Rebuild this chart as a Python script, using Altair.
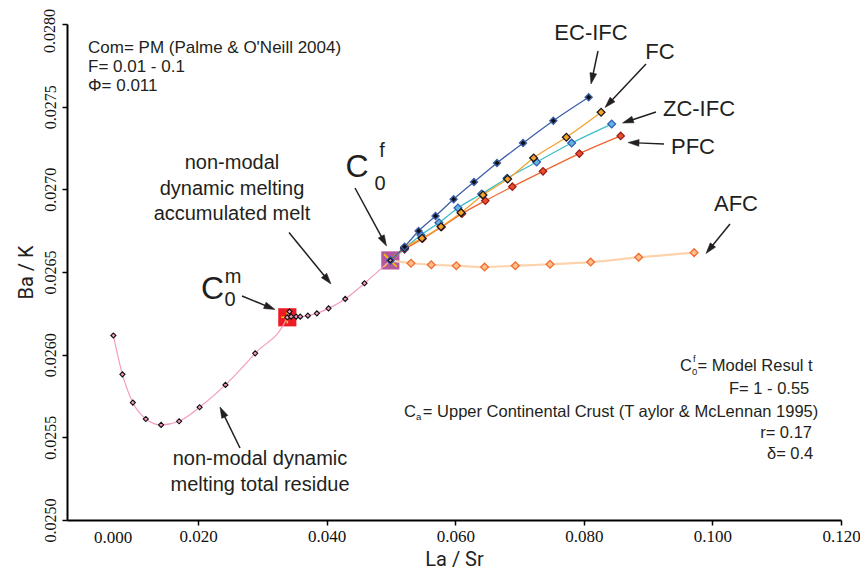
import math
import altair as alt
import pandas as pd

# ---------------- data ----------------
# non-modal dynamic melting: total residue (to C0m) then accumulated melt (to C0f)
res_x = [0.00682, 0.00822, 0.00984, 0.01186, 0.01424, 0.01704, 0.02023, 0.02425, 0.02887, 0.03387]
res_y = [0.026116, 0.025881, 0.025710, 0.025611, 0.025575, 0.025597, 0.025682, 0.025817, 0.026008, 0.026226]
melt_x = [0.03421, 0.03447, 0.03525, 0.03588, 0.03707, 0.03847, 0.04028, 0.04288, 0.04588, 0.04990]
melt_y = [0.026260, 0.026230, 0.026230, 0.026230, 0.026236, 0.026250, 0.026280, 0.026337, 0.026432, 0.026570]

c0m = (0.03387, 0.026226)
c0f = (0.04990, 0.026570)

series = ["EC-IFC", "FC", "ZC-IFC", "PFC", "AFC"]
ec_x = [0.05211, 0.05429, 0.05693, 0.05974, 0.06291, 0.06649, 0.07054, 0.07525, 0.08075]
ec_y = [0.026653, 0.026748, 0.026839, 0.026940, 0.027044, 0.027159, 0.027280, 0.027415, 0.027557]
fc_x = [0.05211, 0.05482, 0.05777, 0.06089, 0.06431, 0.06814, 0.07219, 0.07728, 0.08268]
fc_y = [0.026647, 0.026704, 0.026774, 0.026859, 0.026966, 0.027062, 0.027190, 0.027315, 0.027466]
zc_x = [0.05211, 0.05466, 0.05746, 0.06042, 0.06409, 0.06805, 0.07265, 0.07810, 0.08433]
zc_y = [0.026643, 0.026724, 0.026798, 0.026887, 0.026972, 0.027067, 0.027165, 0.027280, 0.027395]
pfc_x = [0.05211, 0.05491, 0.05787, 0.06104, 0.06467, 0.06887, 0.07365, 0.07930, 0.08573]
pfc_y = [0.026637, 0.026701, 0.026772, 0.026853, 0.026931, 0.027016, 0.027109, 0.027216, 0.027323]
afc_x = [0.05311, 0.05626, 0.06016, 0.06456, 0.06934, 0.07474, 0.08106, 0.08853, 0.09715]
afc_y = [0.026553, 0.026544, 0.026538, 0.026530, 0.026538, 0.026547, 0.026560, 0.026589, 0.026617]

x_ticks = [0.02, 0.04, 0.06, 0.08, 0.10, 0.12]
y_ticks = [0.0250, 0.0255, 0.0260, 0.0265, 0.0270, 0.0275, 0.0280]

# ---------------- styles ----------------
INK = "#231f20"
PINK_LINE = "#f39cc3"
PINK_FILL = "#f49ac1"
line_col = {"EC-IFC": "#3d5ea8", "FC": "#f6a12c", "ZC-IFC": "#3dbfc6", "PFC": "#f0642e", "AFC": "#fdd3ad"}
line_w = {"EC-IFC": 1.3, "FC": 1.3, "ZC-IFC": 1.3, "PFC": 1.3, "AFC": 2.2}
fill_col = {"EC-IFC": "#111111", "FC": "#f7a12a", "ZC-IFC": "#63b3e3", "PFC": "#e8522a", "AFC": "#fdc08e"}
strk_col = {"EC-IFC": "#3d5ea8", "FC": "#1a1a1a", "ZC-IFC": "#2f5fb0", "PFC": "#9e1c1c", "AFC": "#f26b2c"}
msize = {"EC-IFC": 50, "FC": 60, "ZC-IFC": 60, "PFC": 54, "AFC": 60}

W, H = 774, 496
XMIN, XMAX = -0.0004, 0.12
YMIN, YMAX = 0.0250, 0.0280
LEFT, TOP = 67, 24  # page position of plot origin (8px margin + padding)

xs = alt.Scale(domain=[XMIN, XMAX], nice=False, zero=False)
ys = alt.Scale(domain=[YMIN, YMAX], nice=False, zero=False)

x_axis = alt.Axis(values=x_ticks, format=".3f", title="La / Sr", grid=False,
                  labelFont="Liberation Serif", labelFontSize=17, labelColor="#111",
                  tickSize=5, tickColor="black", tickWidth=1.5,
                  domainColor="black", domainWidth=2, labelPadding=3,
                  labelFlush=False, labelOverlap=False,
                  titleFont="Roboto", titleFontSize=20, titleFontWeight="normal",
                  titleColor="#222", titlePadding=5)
y_axis = alt.Axis(values=y_ticks, format=".4f", title="Ba / K", grid=False,
                  labelExpr="datum.value > 0.02799 ? '' : datum.label",
                  labelFont="Liberation Serif", labelFontSize=16, labelColor="#111",
                  labelAngle=270, labelAlign="center", labelBaseline="bottom",
                  tickSize=5, tickColor="black", tickWidth=1.5,
                  domainColor="black", domainWidth=2, labelPadding=4,
                  labelFlush=False, labelOverlap=False,
                  titleFont="Roboto", titleFontSize=20, titleFontWeight="normal",
                  titleColor="#222", titlePadding=6)


def px2x(px):
    return XMIN + (px - LEFT) / W * (XMAX - XMIN)


def py2y(py):
    return YMAX - (py - TOP) / H * (YMAX - YMIN)


def X(f="x"):
    return alt.X(f"{f}:Q", scale=xs, axis=x_axis)


def Y(f="y"):
    return alt.Y(f"{f}:Q", scale=ys, axis=y_axis)


# ---------------- tables ----------------
pink_df = pd.DataFrame({"x": res_x + melt_x, "y": res_y + melt_y})
pink_df["i"] = range(len(pink_df))

arrs = {"EC-IFC": (ec_x, ec_y), "FC": (fc_x, fc_y), "ZC-IFC": (zc_x, zc_y),
        "PFC": (pfc_x, pfc_y), "AFC": (afc_x, afc_y)}
lrows, prows = [], []
for s in series:
    xx, yy = arrs[s]
    lrows.append({"s": s, "i": 0, "x": c0f[0], "y": c0f[1]})
    for k, (a, b) in enumerate(zip(xx, yy)):
        lrows.append({"s": s, "i": k + 1, "x": a, "y": b})
        prows.append({"s": s, "x": a, "y": b})
lines_df = pd.DataFrame(lrows)
pts_df = pd.DataFrame(prows)

m_df = pd.DataFrame({"x": [c0m[0]], "y": [c0m[1]]})
f_df = pd.DataFrame({"x": [c0f[0]], "y": [c0f[1]]})

sq_m = alt.Chart(m_df).mark_square(size=330, color="#ed1c24", opacity=1).encode(x=X(), y=Y())
sq_f = alt.Chart(f_df).mark_square(size=330, color="#b5579e", opacity=1).encode(x=X(), y=Y())
plus_m = alt.Chart(m_df).mark_point(
    shape="M-1,0L1,0M0,-1L0,1", size=150, stroke="#f7c600", strokeWidth=1.6, filled=False, opacity=1
).encode(x=X(), y=Y())
cross_f = alt.Chart(f_df).mark_point(
    shape="M-1,-1L1,1M-1,1L1,-1", size=160, stroke="#f7c600", strokeWidth=1.6, filled=False, opacity=1
).encode(x=X(), y=Y())
center_f = alt.Chart(f_df).mark_point(
    shape="diamond", size=60, fill="#111", stroke="#3d5ea8", strokeWidth=1.2, filled=True, opacity=1
).encode(x=X(), y=Y())
center_f2 = alt.Chart(f_df).mark_point(
    shape="diamond", size=8, fill=PINK_FILL, strokeWidth=0, filled=True, opacity=1
).encode(x=X(), y=Y())

pink_line = alt.Chart(pink_df).mark_line(color=PINK_LINE, strokeWidth=1.2, interpolate="monotone").encode(
    x=X(), y=Y(), order="i:Q")
pink_pts = alt.Chart(pink_df).mark_point(
    shape="diamond", size=26, fill=PINK_FILL, stroke="#111", strokeWidth=1.1, filled=True, opacity=1
).encode(x=X(), y=Y())

line_layers = []
for s in ["AFC", "PFC", "ZC-IFC", "FC", "EC-IFC"]:
    line_layers.append(
        alt.Chart(lines_df[lines_df.s == s]).mark_line(
            strokeWidth=line_w[s], color=line_col[s], interpolate="monotone").encode(
            x=X(), y=Y(), order="i:Q"))

pts_layers = []
for s in ["AFC", "PFC", "ZC-IFC", "FC", "EC-IFC"]:
    pts_layers.append(
        alt.Chart(pts_df[pts_df.s == s]).mark_point(
            shape="diamond", size=msize[s], fill=fill_col[s], stroke=strk_col[s],
            strokeWidth=1.3, filled=True, opacity=1).encode(x=X(), y=Y()))

# ---------------- annotations (page pixel positions -> data coords) ----------------
arrows_px = [
    (242, 296, 275, 309.5),    # C0m
    (289, 232.5, 331, 284),    # accumulated melt
    (355, 188, 386.5, 246),    # C0f
    (240, 448, 220, 407),      # residue
    (598, 51, 591, 84),        # EC-IFC
    (646, 64, 605, 107.5),     # FC
    (656, 112, 622.5, 123),    # ZC-IFC
    (664, 144, 628, 142.5),    # PFC
    (730, 224, 706, 253.5),    # AFC
]
HEAD = 11.0
arows, hrows = [], []
for (x1, y1, x2, y2) in arrows_px:
    dx, dy = x2 - x1, y2 - y1
    L = math.hypot(dx, dy)
    ux, uy = dx / L, dy / L
    ex, ey = x2 - ux * (HEAD - 2), y2 - uy * (HEAD - 2)
    arows.append({"x": px2x(x1), "y": py2y(y1), "x2": px2x(ex), "y2": py2y(ey)})
    cx, cy = x2 - ux * HEAD / 2, y2 - uy * HEAD / 2
    ang = math.degrees(math.atan2(ux, -uy)) % 360
    hrows.append({"x": px2x(cx), "y": py2y(cy), "ang": ang})
arrow_lines = alt.Chart(pd.DataFrame(arows)).mark_rule(color=INK, strokeWidth=1.5).encode(
    x=X(), y=Y(), x2="x2:Q", y2="y2:Q")
arrow_heads = alt.Chart(pd.DataFrame(hrows)).mark_point(
    shape="M0,-1L0.62,1L-0.62,1Z", size=HEAD * HEAD, filled=True, fill=INK, stroke=INK,
    strokeWidth=0.5, opacity=1).encode(x=X(), y=Y(), angle=alt.Angle("ang:Q", scale=None))


def texts(rows, size, align="left", font="Liberation Sans", color=INK, baseline="middle", angle=0):
    df = pd.DataFrame(rows, columns=["px", "py", "t"])
    df["x"] = df.px.map(px2x)
    df["y"] = df.py.map(py2y)
    return alt.Chart(df).mark_text(fontSize=size, font=font, align=align, baseline=baseline,
                                   color=color, angle=angle).encode(x=X(), y=Y(), text="t:N")


t_topleft = texts([(88, 48, "Com= PM (Palme & O'Neill 2004)"),
                   (88, 67, "F= 0.01 - 0.1"),
                   (88, 86, "Φ= 0.011")], 17)
t_labels = texts([(591, 33, "EC-IFC"), (660, 52, "FC"), (699, 109, "ZC-IFC"),
                  (693, 147, "PFC"), (736, 204, "AFC")], 22, align="center")
t_notes = texts([(232, 163, "non-modal"), (232, 189, "dynamic melting"), (232, 214, "accumulated melt"),
                 (260, 459, "non-modal dynamic"), (260, 485, "melting total residue")], 20, align="center")
t_bigC = texts([(212.5, 289, "C"), (357, 167, "C")], 32, align="center")
t_bigsup = texts([(233, 277, "m"), (382, 151, "f")], 20, align="center")
t_bigsub = texts([(230, 299.5, "0"), (380, 184, "0")], 20, align="center")

t_right = texts([(812.7, 366, "= Model Resul t"),
                 (809.3, 389, "F= 1 - 0.55"),
                 (818.3, 412, "= Upper Continental Crust (T aylor & McLennan 1995)"),
                 (812, 433, "r= 0.17")], 16.5, align="right")
t_delta = texts([(813.3, 454, "δ= 0.4")], 16.5, align="right")
t_rC = texts([(680, 366, "C"), (404, 412, "C")], 16.5)
t_rsup = texts([(693, 359, "f")], 9.5)
t_rsub = texts([(692, 372, "0"), (416, 417, "a")], 9.5)
t_zero = texts([(113, 537.5, "0.000")], 17, align="center", font="Liberation Serif", color="#111")
t_top = texts([(58, 31, "0.0280")], 16, align="center", font="Liberation Serif", color="#111",
              baseline="bottom", angle=270)

chart = alt.layer(
    sq_m, sq_f, plus_m, cross_f,
    pink_line, *line_layers,
    pink_pts, *pts_layers, center_f, center_f2,
    arrow_lines, arrow_heads,
    t_topleft, t_labels, t_notes, t_bigC, t_bigsup, t_bigsub,
    t_right, t_delta, t_rC, t_rsup, t_rsub, t_zero, t_top,
).properties(
    width=W, height=H,
    autosize=alt.AutoSizeParams(type="none"),
    padding={"left": 59, "top": 16, "right": 19, "bottom": 50},
    background="white",
).configure_view(stroke=None)

chart.save("out.html", embed_options={"renderer": "svg", "actions": False})
